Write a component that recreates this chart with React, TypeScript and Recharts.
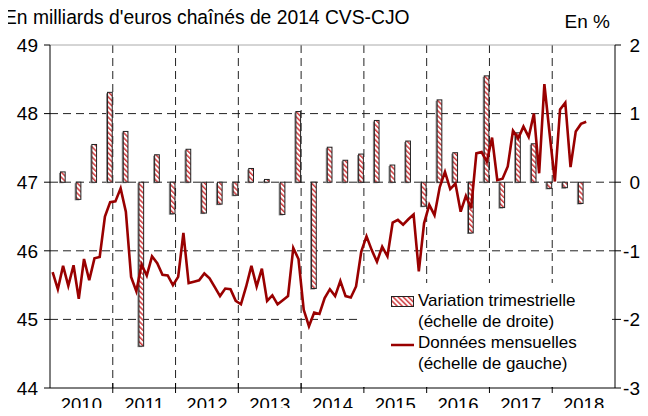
// Consommation des ménages : niveau mensuel et variation trimestrielle

import { ComposedChart, Bar, Line, XAxis, YAxis, CartesianGrid, ReferenceLine, Legend } from 'recharts'

const years = ['2010', '2011', '2012', '2013', '2014', '2015', '2016', '2017', '2018']
const yearStarts = [0, 12, 24, 36, 48, 60, 72, 84, 96]
const yearBounds = [12, 24, 36, 48, 60, 72, 84, 96]
const leftTicks = [44, 45, 46, 47, 48, 49]
const rightTicks = [-3, -2, -1, 0, 1, 2]
const leftGrid = [45, 46, 47, 48]

// Données mensuelles, janv. 2010 -> juil. 2018 (Md€ chaînés 2014)
const monthly = [
  45.69, 45.44, 45.78, 45.49, 45.79, 45.30, 45.88, 45.57, 45.89, 45.91, 46.50, 46.71,
  46.72, 46.91, 46.57, 45.62, 45.41, 45.80, 45.64, 45.92, 45.82, 45.65, 45.64, 45.50,
  45.62, 46.26, 45.53, 45.55, 45.57, 45.67, 45.60, 45.47, 45.34, 45.45, 45.44, 45.27,
  45.22, 45.48, 45.78, 45.48, 45.74, 45.27, 45.35, 45.22, 45.28, 45.34, 46.04, 45.88,
  45.14, 44.90, 45.10, 45.08, 45.31, 45.44, 45.34, 45.56, 45.34, 45.32, 45.48, 45.99,
  46.21, 46.01, 45.84, 46.06, 45.92, 46.41, 46.45, 46.38, 46.46, 46.53, 45.70, 46.40,
  46.67, 46.52, 46.93, 47.15, 46.90, 46.98, 46.57, 46.80, 46.62, 47.42, 47.44, 47.30,
  47.65, 47.03, 47.05, 47.23, 47.75, 47.64, 47.81, 47.66, 48.00, 47.13, 48.43, 47.71,
  47.01, 48.06, 48.16, 47.22, 47.74, 47.85, 47.88,
]

// Variation trimestrielle en %, 2010T1 -> 2018T2
const quarterly = [
  0.15, -0.25, 0.55, 1.31,
  0.74, -2.39, 0.40, -0.46,
  0.48, -0.45, -0.32, -0.19,
  0.20, 0.04, -0.47, 1.03,
  -1.55, 0.51, 0.32, 0.41,
  0.90, 0.25, 0.60, -0.35,
  1.20, 0.43, -0.74, 1.55,
  -0.37, 0.72, 0.56, -0.09,
  -0.08, -0.31,
]

const data = monthly.map((v, i) => ({
  t: i + 0.5,
  level: v,
  q: i % 3 === 2 ? quarterly[(i - 2) / 3] ?? null : null,
}))

const FONT = '"Liberation Sans", Arial, sans-serif'
const W = 648
const H = 416
const LEFT_W = 50
const RIGHT_W = 33
const HALF_YEAR = (W - LEFT_W - RIGHT_W) / 18
const LINE_COLOR = '#990000'

function HatchBar(props: any) {
  const { x, y, width, height } = props
  if (height == null || width == null || isNaN(height)) return null
  const top = height < 0 ? y + height : y
  const h = Math.abs(height)
  return (
    <g>
      <rect x={x - 1.5} y={top + 1} width={width} height={h} fill="#8c8c8c" />
      <rect x={x} y={top} width={width} height={h} fill="url(#hatch)" stroke="#222" strokeWidth={1} />
    </g>
  )
}

const LeftTick = ({ x, y, payload }: any) => (
  <g>
    <line x1={x - 6} x2={x} y1={y} y2={y} stroke="#000" />
    <text x={x - 12} y={y} dy="0.36em" textAnchor="end" fontSize={19} fontFamily={FONT} fill="#000">
      {payload.value}
    </text>
  </g>
)

const RightTick = ({ x, y, payload }: any) => (
  <g>
    <line x1={x} x2={x + 6} y1={y} y2={y} stroke="#000" />
    <text x={x + 25} y={y} dy="0.36em" textAnchor="end" fontSize={19} fontFamily={FONT} fill="#000">
      {payload.value}
    </text>
  </g>
)

const YearTick = ({ x, y, payload }: any) => {
  const i = yearStarts.indexOf(payload.value)
  return (
    <g>
      {payload.value > 0 && <line x1={x} x2={x} y1={y - 5} y2={y + 5} stroke="#000" />}
      <text x={x + HALF_YEAR} y={y + 23} textAnchor="middle" fontSize={18.5} fontFamily={FONT} fill="#000">
        {years[i]}
      </text>
    </g>
  )
}

function LegendBox() {
  return (
    <div style={{ position: 'relative', width: 252, height: 104, background: '#fff', fontFamily: FONT, fontSize: 17, color: '#000', lineHeight: '20.5px' }}>
      <svg width={24} height={12} style={{ position: 'absolute', left: 31, top: 13 }}>
        <rect x={0.5} y={0.5} width={22} height={10} fill="url(#hatch)" stroke="#222" />
      </svg>
      <div style={{ position: 'absolute', left: 58, top: 8, whiteSpace: 'nowrap' }}>
        Variation trimestrielle<br />(échelle de droite)
      </div>
      <svg width={24} height={6} style={{ position: 'absolute', left: 31, top: 59 }}>
        <line x1={0} x2={23} y1={3} y2={3} stroke={LINE_COLOR} strokeWidth={2.5} />
      </svg>
      <div style={{ position: 'absolute', left: 58, top: 50, whiteSpace: 'nowrap' }}>
        Données mensuelles<br />(échelle de gauche)
      </div>
    </div>
  )
}

export default function App() {
  return (
    <div style={{ position: 'relative', width: W, height: H, margin: -8, background: '#fff', fontFamily: FONT }}>
      <svg width={0} height={0} style={{ position: 'absolute' }}>
        <defs>
          <pattern id="hatch" patternUnits="userSpaceOnUse" width={3.6} height={3.6} patternTransform="rotate(-45)">
            <rect width={3.6} height={3.6} fill="#fff" />
            <rect width={1.5} height={3.6} fill="#d0393c" />
          </pattern>
        </defs>
      </svg>

      <div style={{ position: 'absolute', left: 4, top: 7, fontSize: 19.3, whiteSpace: 'nowrap', color: '#000' }}>
        En milliards d'euros chaînés de 2014 CVS-CJO
      </div>
      <div style={{ position: 'absolute', right: 38, top: 11, fontSize: 19, whiteSpace: 'nowrap', color: '#000' }}>
        En %
      </div>

      <ComposedChart width={W} height={H} data={data} margin={{ top: 45, right: 0, bottom: 0, left: 0 }}>
        <CartesianGrid
          yAxisId="left"
          horizontalValues={leftGrid}
          verticalValues={yearBounds}
          stroke="#222"
          strokeDasharray="8 5"
        />
        <XAxis
          dataKey="t"
          type="number"
          domain={[0, 108]}
          ticks={yearStarts}
          interval={0}
          height={28}
          tickSize={0}
          tickMargin={0}
          tickLine={false}
          tick={<YearTick />}
          axisLine={{ stroke: '#000' }}
        />
        <YAxis
          yAxisId="left"
          orientation="left"
          domain={[44, 49]}
          ticks={leftTicks}
          interval={0}
          width={LEFT_W}
          tickSize={0}
          tickMargin={0}
          tickLine={false}
          tick={<LeftTick />}
          axisLine={{ stroke: '#000' }}
        />
        <YAxis
          yAxisId="right"
          orientation="right"
          domain={[-3, 2]}
          ticks={rightTicks}
          interval={0}
          width={RIGHT_W}
          tickSize={0}
          tickMargin={0}
          tickLine={false}
          tick={<RightTick />}
          axisLine={{ stroke: '#000' }}
        />
        <ReferenceLine yAxisId="left" y={49} stroke="#aaa" />
        <Bar yAxisId="right" dataKey="q" barSize={6} shape={<HatchBar />} isAnimationActive={false} />
        <Line
          yAxisId="left"
          dataKey="level"
          type="linear"
          stroke={LINE_COLOR}
          strokeWidth={2.6}
          dot={false}
          activeDot={false}
          isAnimationActive={false}
        />
        <Legend
          layout="vertical"
          align="center"
          verticalAlign="middle"
          content={<LegendBox />}
          wrapperStyle={{ position: 'absolute', left: 360, top: 283, width: 252, height: 104 }}
        />
      </ComposedChart>
    </div>
  )
}
